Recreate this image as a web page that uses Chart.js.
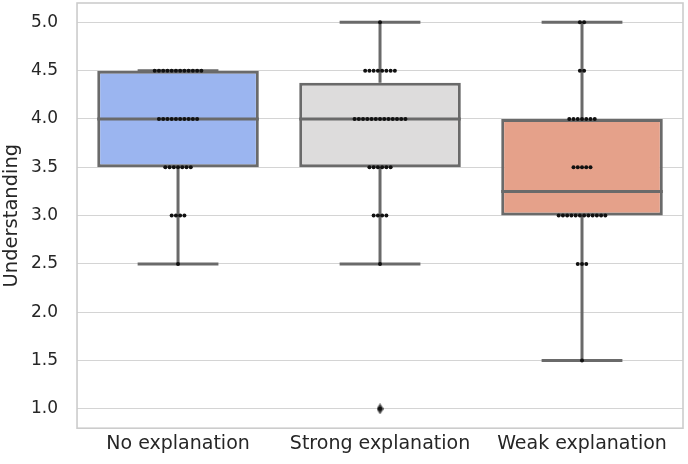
<!DOCTYPE html>
<html><head><meta charset="utf-8">
<script src="https://cdn.jsdelivr.net/npm/chart.js@4/dist/chart.umd.min.js"></script>
<style>html,body{margin:0;padding:0;background:#fff;}</style>
</head><body>
<canvas id="c" width="688" height="464"></canvas>
<script>
// ---- data ----
const categories = ['No explanation', 'Strong explanation', 'Weak explanation'];
const noExplanation = [2.5,
  3.0, 3.0, 3.0, 3.0,
  3.5, 3.5, 3.5, 3.5, 3.5, 3.5, 3.5,
  4.0, 4.0, 4.0, 4.0, 4.0, 4.0, 4.0, 4.0, 4.0, 4.0,
  4.5, 4.5, 4.5, 4.5, 4.5, 4.5, 4.5, 4.5, 4.5, 4.5, 4.5, 4.5];
const strongExplanation = [1.0, 2.5,
  3.0, 3.0, 3.0, 3.0,
  3.5, 3.5, 3.5, 3.5, 3.5, 3.5,
  4.0, 4.0, 4.0, 4.0, 4.0, 4.0, 4.0, 4.0, 4.0, 4.0, 4.0, 4.0, 4.0,
  4.5, 4.5, 4.5, 4.5, 4.5, 4.5, 4.5, 4.5,
  5.0];
const weakExplanation = [1.5,
  2.5, 2.5, 2.5,
  3.0, 3.0, 3.0, 3.0, 3.0, 3.0, 3.0, 3.0, 3.0, 3.0, 3.0, 3.0,
  3.5, 3.5, 3.5, 3.5, 3.5,
  4.0, 4.0, 4.0, 4.0, 4.0, 4.0, 4.0,
  4.5, 4.5,
  5.0, 5.0];
const yTicks = [1.0, 1.5, 2.0, 2.5, 3.0, 3.5, 4.0, 4.5, 5.0];
const yLabel = 'Understanding';

// ---- styles ----
const boxColors = ['#9bb5f0', '#dddcdc', '#e5a18a'];
const lineGray = '#6a6a6a';
const textColor = '#262626';
const gridColor = '#d4d4d4';
const boxWidth = 0.8, capHalf = 0.2, dotGap = 0.021;
const fontFamily = '"DejaVu Sans", "Liberation Sans", sans-serif';

// ---- stats ----
const groups = [noExplanation, strongExplanation, weakExplanation];
function quantile(s, p) {
  const pos = (s.length - 1) * p, lo = Math.floor(pos), hi = Math.ceil(pos);
  return s[lo] + (s[hi] - s[lo]) * (pos - lo);
}
const stats = groups.map(g => {
  const s = [...g].sort((a, b) => a - b);
  const q1 = quantile(s, 0.25), med = quantile(s, 0.5), q3 = quantile(s, 0.75);
  const iqr = q3 - q1;
  const inside = s.filter(v => v >= q1 - 1.5 * iqr && v <= q3 + 1.5 * iqr);
  return { q1, med, q3, lo: inside[0], hi: inside[inside.length - 1],
           out: s.filter(v => v < q1 - 1.5 * iqr || v > q3 + 1.5 * iqr) };
});

const boxData = stats.map((st, i) => ({ x: i, y: [st.q1, st.q3] }));
const whiskerData = [], capData = [], medianData = [], outData = [];
stats.forEach((st, i) => {
  whiskerData.push({ x: i, y: st.lo }, { x: i, y: st.q1 }, { x: i, y: null },
                   { x: i, y: st.q3 }, { x: i, y: st.hi }, { x: i, y: null });
  capData.push({ x: i - capHalf, y: st.lo }, { x: i + capHalf, y: st.lo }, { x: i, y: null },
               { x: i - capHalf, y: st.hi }, { x: i + capHalf, y: st.hi }, { x: i, y: null });
  medianData.push({ x: i - boxWidth / 2, y: st.med }, { x: i + boxWidth / 2, y: st.med }, { x: i, y: null });
  st.out.forEach(v => outData.push({ x: i, y: v }));
});
const swarmData = [];
groups.forEach((g, i) => {
  const counts = new Map();
  g.forEach(v => counts.set(v, (counts.get(v) || 0) + 1));
  counts.forEach((m, v) => {
    for (let k = 0; k < m; k++) swarmData.push({ x: i + (k - (m - 1) / 2) * dotGap, y: v });
  });
});

function thinDiamond(w, h, color) {
  const c = document.createElement('canvas'); c.width = w; c.height = h;
  const g = c.getContext('2d'); g.fillStyle = color;
  g.beginPath(); g.moveTo(w / 2, 0); g.lineTo(w, h / 2); g.lineTo(w / 2, h); g.lineTo(0, h / 2);
  g.closePath(); g.fill(); return c;
}

const framePlugin = {
  id: 'frame',
  beforeDatasetsDraw(chart) {
    const { ctx, chartArea: a } = chart;
    ctx.save(); ctx.strokeStyle = '#cccccc'; ctx.lineWidth = 1.6;
    ctx.strokeRect(a.left, a.top, a.right - a.left, a.bottom - a.top);
    ctx.restore();
  }
};

new Chart(document.getElementById('c'), {
  type: 'scatter',
  data: {
    datasets: [
      { type: 'scatter', data: swarmData, order: 1, pointRadius: 2, pointHoverRadius: 2,
        backgroundColor: '#111111', borderWidth: 0 },
      { type: 'scatter', data: outData, order: 2, pointStyle: thinDiamond(7, 11, '#3c3c3c'),
        pointRadius: 5, backgroundColor: '#3c3c3c' },
      { type: 'line', data: medianData, order: 3, borderColor: lineGray, borderWidth: 3,
        pointRadius: 0, spanGaps: false, fill: false },
      { type: 'line', data: capData, order: 4, borderColor: lineGray, borderWidth: 3,
        pointRadius: 0, spanGaps: false, fill: false },
      { type: 'line', data: whiskerData, order: 5, borderColor: lineGray, borderWidth: 3,
        pointRadius: 0, spanGaps: false, fill: false },
      { type: 'bar', data: boxData, order: 6, backgroundColor: boxColors, borderColor: lineGray,
        borderWidth: 3, borderSkipped: false, barPercentage: boxWidth, categoryPercentage: 1 }
    ]
  },
  options: {
    responsive: false, animation: false,
    layout: { autoPadding: false, padding: { left: 0, right: 5, top: 3, bottom: 5 } },
    plugins: { legend: { display: false }, tooltip: { enabled: false } },
    scales: {
      x: {
        type: 'linear', min: -0.5, max: 2.5, offset: false,
        afterBuildTicks: ax => { ax.ticks = categories.map((_, i) => ({ value: i })); },
        grid: { display: false, offset: false, drawTicks: false },
        border: { display: false },
        ticks: { callback: v => categories[v], color: textColor, maxRotation: 0, autoSkip: false,
                 padding: 4, font: { family: fontFamily, size: 19 } }
      },
      y: {
        type: 'linear', min: 0.8, max: 5.2,
        afterBuildTicks: ax => { ax.ticks = yTicks.map(v => ({ value: v })); },
        afterFit: ax => { ax.paddingTop = 0; ax.paddingBottom = 0; },
        grid: { color: gridColor, lineWidth: 1, drawTicks: false },
        border: { display: false },
        ticks: { callback: v => v.toFixed(1), color: textColor, padding: 19,
                 font: { family: fontFamily, size: 17 } },
        title: { display: true, text: yLabel, color: textColor, padding: { top: 0, bottom: -11.4 },
                 font: { family: fontFamily, size: 19.5 } }
      }
    }
  },
  plugins: [framePlugin]
});
</script>
</body></html>
